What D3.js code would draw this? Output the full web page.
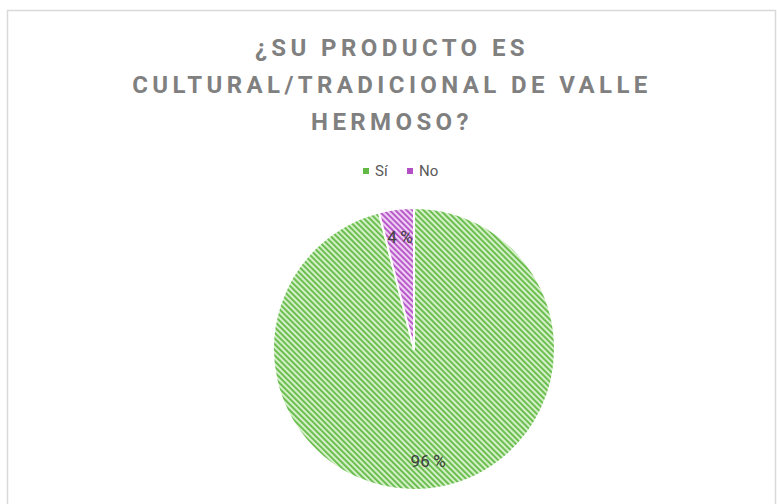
<!DOCTYPE html>
<html>
<head>
<meta charset="utf-8">
<script src="https://cdn.jsdelivr.net/npm/d3@7"></script>
<style>
  body { margin: 0; background: #fff; }
  svg { display: block; }
</style>
</head>
<body>
<div id="chart"></div>
<script>
var titleLines = ["¿SU PRODUCTO ES", "CULTURAL/TRADICIONAL DE VALLE", "HERMOSO?"];
var categories = ["Sí", "No"];
var values = [96, 4];
var darkColors = ["#62b944", "#b24fc4"];
var lightColors = ["#d4f0c8", "#f0d0f5"];

function init() {
    var w = 777;
    var h = 504;
    var cx = 414;
    var cy = 349;
    var radius = 141;

    var svg = d3.select("#chart")
        .append("svg")
        .attr("width", w)
        .attr("height", h);

    // chart frame
    svg.append("rect")
        .attr("x", 7.5)
        .attr("y", 10.5)
        .attr("width", 768)
        .attr("height", 520)
        .attr("fill", "#fff")
        .attr("stroke", "#d9d9d9")
        .attr("stroke-width", 1.5);

    // hatch patterns, one per category
    var defs = svg.append("defs");
    categories.forEach((c, i) => {
        var p = defs.append("pattern")
            .attr("id", "hatch" + i)
            .attr("patternUnits", "userSpaceOnUse")
            .attr("width", 4)
            .attr("height", 4)
            .attr("patternTransform", "rotate(-45)");
        p.append("rect")
            .attr("width", 4)
            .attr("height", 4)
            .attr("fill", lightColors[i]);
        p.append("rect")
            .attr("width", 1.8)
            .attr("height", 4)
            .attr("fill", darkColors[i]);
    });

    // title
    svg.append("text")
        .attr("text-anchor", "middle")
        .attr("font-family", "Roboto, 'Open Sans', sans-serif")
        .attr("font-weight", "bold")
        .attr("font-size", "24px")
        .attr("letter-spacing", "4.4px")
        .attr("fill", "#808080")
        .selectAll("tspan")
        .data(titleLines)
        .enter()
        .append("tspan")
        .attr("x", 392)
        .attr("y", (d, i) => 56 + i * 37)
        .text(d => d);

    // legend
    var legendX = d3.scalePoint()
        .domain(categories)
        .range([363, 407]);

    var legend = svg.selectAll(".legend")
        .data(categories)
        .enter()
        .append("g")
        .attr("class", "legend")
        .attr("transform", d => `translate(${legendX(d)}, 168)`);

    legend.append("rect")
        .attr("width", 6)
        .attr("height", 6)
        .attr("fill", (d, i) => darkColors[i]);

    legend.append("text")
        .attr("x", 12)
        .attr("y", 8)
        .attr("font-family", "Roboto, 'Open Sans', sans-serif")
        .attr("font-size", "15px")
        .attr("fill", "#595959")
        .text(d => d);

    // pie
    var pie = d3.pie().sort(null).value(d => d);
    var arc = d3.arc().innerRadius(0).outerRadius(radius);
    var labelArc = d3.arc().innerRadius(radius * 0.8).outerRadius(radius * 0.8);

    var g = svg.append("g")
        .attr("transform", `translate(${cx}, ${cy})`);

    var slices = pie(values);

    g.selectAll("path")
        .data(slices)
        .enter()
        .append("path")
        .attr("d", arc)
        .attr("fill", (d, i) => `url(#hatch${i})`)
        .attr("stroke", "#fff")
        .attr("stroke-width", 2)
        .attr("stroke-linejoin", "round");

    g.selectAll(".lbl")
        .data(slices)
        .enter()
        .append("text")
        .attr("class", "lbl")
        .attr("transform", d => `translate(${labelArc.centroid(d)})`)
        .attr("text-anchor", "middle")
        .attr("dy", "0.35em")
        .attr("font-family", "Roboto, 'Open Sans', sans-serif")
        .attr("font-size", "17px")
        .attr("fill", "#404040")
        .text(d => d.data + "\u2009%");
}

window.onload = init;
</script>
</body>
</html>
